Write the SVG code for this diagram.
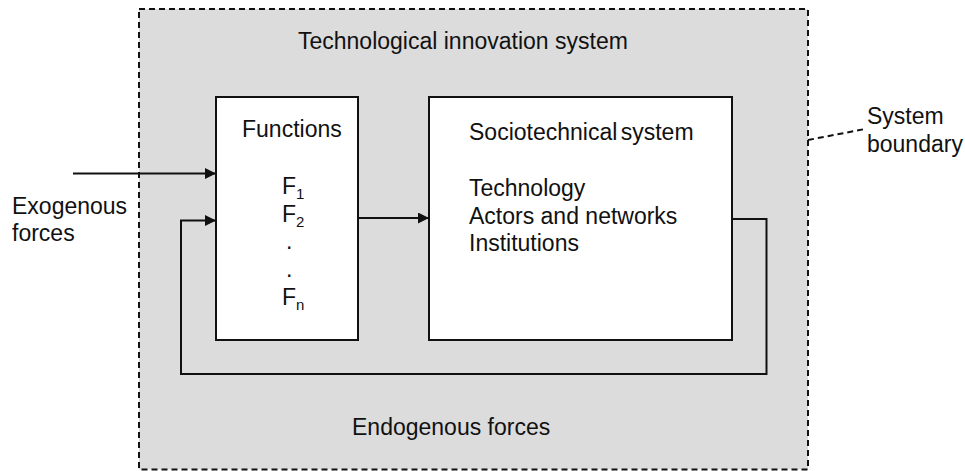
<svg xmlns="http://www.w3.org/2000/svg" width="965" height="471" viewBox="0 0 965 471">
<style>
  text { font-family: "Liberation Sans", Arial, sans-serif; font-size: 23px; fill: #111; }
  .sub { font-size: 15px; }
  .box { fill: #ffffff; stroke: #111; stroke-width: 2; }
  .line { fill: none; stroke: #111; stroke-width: 2; }
  .dash { fill: none; stroke: #111; stroke-width: 2; stroke-dasharray: 6 4; }
  .area { fill: #dcdcdc; stroke: #111; stroke-width: 2; stroke-dasharray: 6 4; }
</style>
<defs>
  <marker id="arrow" viewBox="0 0 10 10" refX="10" refY="5" markerWidth="11" markerHeight="11" markerUnits="userSpaceOnUse" orient="auto">
    <path d="M0,0 L10,5 L0,10 Z" fill="#111"/>
  </marker>
</defs>
<g id="system-boundary">
  <rect class="area" x="139" y="9" width="669" height="460.5"/>
  <text x="298" y="49">Technological innovation system</text>
  <text x="352" y="435">Endogenous forces</text>
</g>
<g id="functions">
  <rect class="box" x="216" y="97" width="142" height="243"/>
  <text x="242" y="137">Functions</text>
  <text x="282" y="194">F<tspan class="sub" dy="5">1</tspan></text>
  <text x="282" y="221.5">F<tspan class="sub" dy="5">2</tspan></text>
  <text x="286" y="249">.</text>
  <text x="286" y="277">.</text>
  <text x="282" y="305">F<tspan class="sub" dy="5">n</tspan></text>
</g>
<g id="sociotechnical">
  <rect class="box" x="429" y="97" width="303" height="243"/>
  <text x="469" y="140" word-spacing="-3">Sociotechnical system</text>
  <text x="469" y="196">Technology</text>
  <text x="469" y="223.5">Actors and networks</text>
  <text x="469" y="251">Institutions</text>
</g>
<g id="exogenous">
  <text x="12" y="214">Exogenous</text>
  <text x="12" y="241">forces</text>
</g>
<g id="boundary-label">
  <text x="867" y="124">System</text>
  <text x="867" y="152">boundary</text>
</g>
<g id="connectors">
  <line class="line" x1="73" y1="173.5" x2="216" y2="173.5" marker-end="url(#arrow)"/>
  <line class="line" x1="358" y1="218" x2="429" y2="218" marker-end="url(#arrow)"/>
  <polyline class="line" points="732,219 766.5,219 766.5,374 181,374 181,220.5 216,220.5" marker-end="url(#arrow)"/>
  <line class="dash" x1="808" y1="140" x2="865" y2="129"/>
</g>
</svg>
